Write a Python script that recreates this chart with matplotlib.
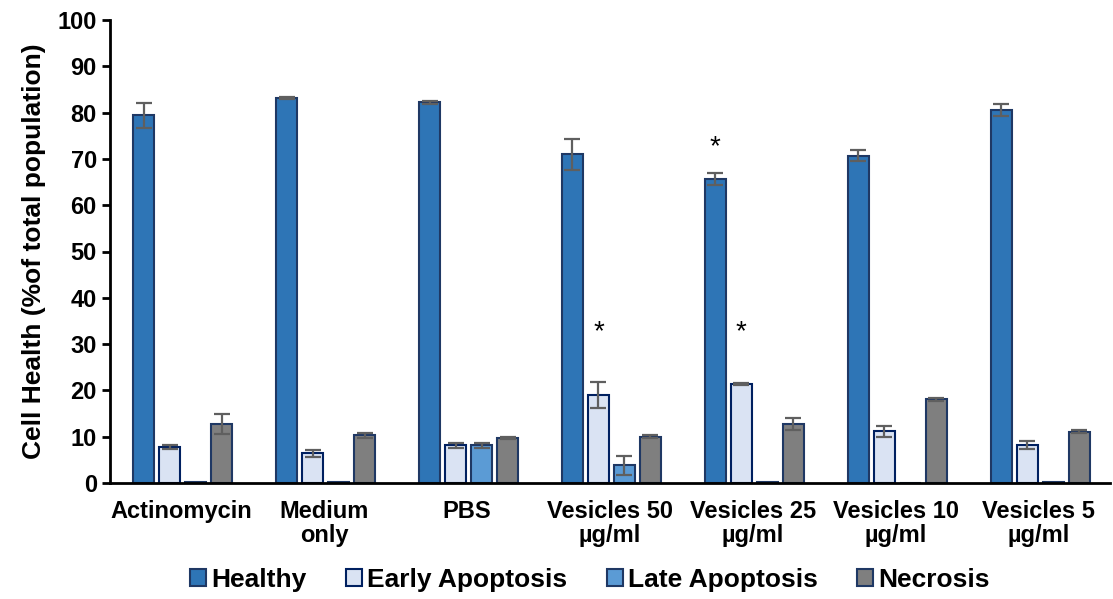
import numpy as np
import matplotlib.pyplot as plt

plt.rcParams['font.family'] = ['Liberation Sans', 'DejaVu Sans']
plt.rcParams['font.weight'] = 'bold'

# groups and series
groups = ['Actinomycin', 'Medium\nonly', 'PBS', 'Vesicles 50\nµg/ml',
          'Vesicles 25\nµg/ml', 'Vesicles 10\nµg/ml', 'Vesicles 5\nµg/ml']
series = ['Healthy', 'Early Apoptosis', 'Late Apoptosis', 'Necrosis']

healthy = [79.4, 83.2, 82.2, 71.0, 65.7, 70.7, 80.6]
healthy_err = [2.7, 0.2, 0.4, 3.3, 1.3, 1.2, 1.3]
early = [7.8, 6.4, 8.1, 19.0, 21.4, 11.2, 8.2]
early_err = [0.5, 0.7, 0.5, 2.9, 0.3, 1.2, 0.9]
late = [0.2, 0.2, 8.1, 3.8, 0.3, 0.1, 0.2]
late_err = [0.0, 0.0, 0.5, 2.0, 0.0, 0.0, 0.0]
necrosis = [12.7, 10.3, 9.7, 10.0, 12.7, 18.1, 11.1]
necrosis_err = [2.2, 0.5, 0.2, 0.3, 1.3, 0.3, 0.4]

values = [healthy, early, late, necrosis]
errors = [healthy_err, early_err, late_err, necrosis_err]
colors = ['#2E75B6', '#DAE3F3', '#5B9BD5', '#7F7F7F']
edges = ['#1F3864', '#002060', '#1F3864', '#1F3864']

# significance markers: (group index, series index, y)
stars = [(4, 0, 72.5), (3, 1, 32.5), (4, 1, 32.5)]

fig = plt.figure(figsize=(11.13, 5.99), dpi=100)
ax = fig.add_axes([110 / 1113, 1 - 483 / 599, 1000 / 1113, 463 / 599])

x = np.arange(len(groups)) + 0.5
pitch = 0.182
width = 0.147
for i, (name, vals, errs) in enumerate(zip(series, values, errors)):
    pos = x + (i - 1.5) * pitch + 0.01
    ax.bar(pos, vals, width, color=colors[i], edgecolor=edges[i],
           linewidth=1.5, label=name, zorder=2)
    show = [e > 0 for e in errs]
    ax.errorbar(pos[show], np.array(vals)[show], yerr=np.array(errs)[show],
                fmt='none', ecolor='#5F5F5F', elinewidth=1.6, capsize=6,
                capthick=1.6, zorder=3)

for g, s, yv in stars:
    ax.text(x[g] + (s - 1.5) * pitch + 0.01, yv, '*', ha='center',
            va='center', fontsize=20, fontweight='normal')

ax.set_xlim(0, len(groups))
ax.set_ylim(0, 100)
ax.set_yticks(range(0, 101, 10))
ax.set_xticks(x)
ax.set_xticklabels(groups, fontsize=17, fontweight='bold', linespacing=1.05)
ax.tick_params(axis='x', length=0, pad=12)
ax.tick_params(axis='y', labelsize=17, width=2, length=6)
for lab in ax.get_yticklabels():
    lab.set_fontweight('bold')
ax.spines['top'].set_visible(False)
ax.spines['right'].set_visible(False)
ax.spines['left'].set_linewidth(2)
ax.spines['bottom'].set_linewidth(2)
ax.set_ylabel('Cell Health (%of total population)', fontsize=19,
              fontweight='bold', labelpad=8)

fig.legend(loc='center', bbox_to_anchor=(0.53, 1 - 580 / 599), ncol=4,
           frameon=False, prop={'size': 19, 'weight': 'bold'},
           handlelength=0.6, handleheight=0.6, handletextpad=0.2,
           columnspacing=1.5)

fig.savefig('out.png', dpi=100)
